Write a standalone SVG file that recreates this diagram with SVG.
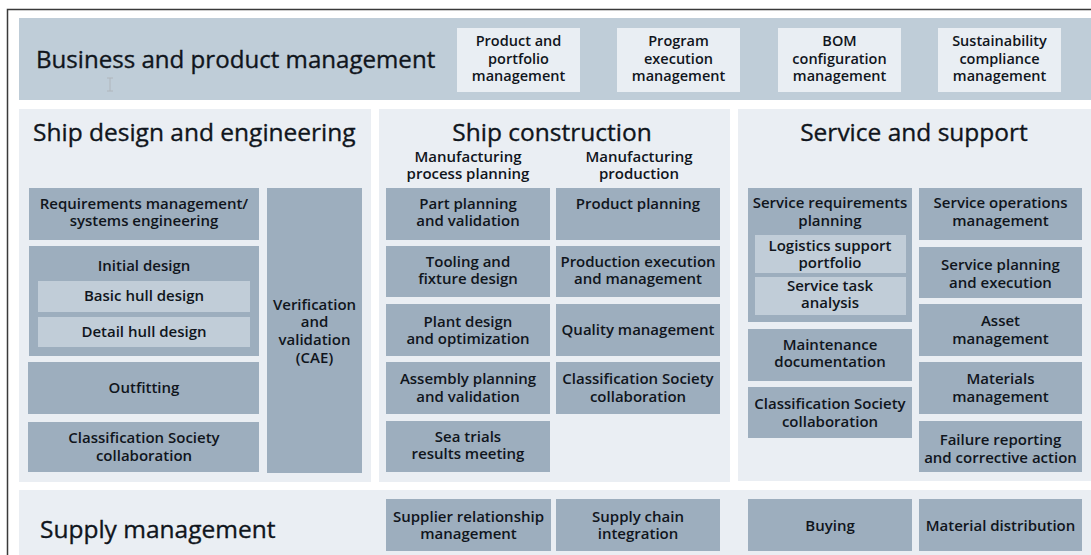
<svg xmlns="http://www.w3.org/2000/svg" width="1091" height="555" viewBox="0 0 1091 555">
<style>
text { font-family: "Open Sans", "Noto Sans", "Liberation Sans", sans-serif; fill: #10151c; }
.h { font-size: 24.5px; stroke: #10151c; stroke-width: 0.35px; }
.hb { font-size: 24.1px; stroke: #10151c; stroke-width: 0.35px; }
.hc { font-size: 24.5px; text-anchor: middle; stroke: #10151c; stroke-width: 0.35px; }
.l { font-size: 15px; font-weight: 600; text-anchor: middle; }
.lt { font-size: 14.5px; font-weight: 600; text-anchor: middle; }
.dk { fill: #9daebe; }
.in { fill: #c1cdd8; }
.pn { fill: #eaeef3; }
.band { fill: #bfcdd8; }
.tb { fill: #e9eef3; }
</style>
<rect x="0" y="0" width="1091" height="555" fill="#ffffff"/>
<path d="M7.5 555 V9.5 H1091" fill="none" stroke="#3a3a3a" stroke-width="1.5"/>

<g id="business">
  <rect class="band" x="19" y="18" width="1072" height="82"/>
  <text class="hb" x="36" y="68">Business and product management</text>
  <path d="M107 78 h6 M110 78 v13 M107 91 h6" stroke="#b0b6bc" stroke-width="1" fill="none"/>
</g>
<g id="product-portfolio">
  <rect class="tb" x="457" y="28" width="123" height="64"/>
  <text class="lt" x="518.5" y="46">Product and</text>
  <text class="lt" x="518.5" y="63.5">portfolio</text>
  <text class="lt" x="518.5" y="81">management</text>
</g>
<g id="program-execution">
  <rect class="tb" x="617" y="28" width="123" height="64"/>
  <text class="lt" x="678.5" y="46">Program</text>
  <text class="lt" x="678.5" y="63.5">execution</text>
  <text class="lt" x="678.5" y="81">management</text>
</g>
<g id="bom-configuration">
  <rect class="tb" x="778" y="28" width="123" height="64"/>
  <text class="lt" x="839.5" y="46">BOM</text>
  <text class="lt" x="839.5" y="63.5">configuration</text>
  <text class="lt" x="839.5" y="81">management</text>
</g>
<g id="sustainability">
  <rect class="tb" x="938" y="28" width="123" height="64"/>
  <text class="lt" x="999.5" y="46">Sustainability</text>
  <text class="lt" x="999.5" y="63.5">compliance</text>
  <text class="lt" x="999.5" y="81">management</text>
</g>

<g id="ship-design">
  <rect class="pn" x="19" y="109" width="352" height="373"/>
  <text class="h" x="33" y="141">Ship design and engineering</text>
</g>
<g id="requirements">
  <rect class="dk" x="29" y="188" width="230" height="52"/>
  <text class="l" x="144" y="208.5">Requirements management/</text>
  <text class="l" x="144" y="226">systems engineering</text>
</g>
<g id="initial-design">
  <rect class="dk" x="29" y="246" width="230" height="110"/>
  <text class="l" x="144" y="271">Initial design</text>
</g>
<g id="basic-hull">
  <rect class="in" x="38" y="281" width="212" height="31"/>
  <text class="l" x="144" y="301">Basic hull design</text>
</g>
<g id="detail-hull">
  <rect class="in" x="38" y="317" width="212" height="30"/>
  <text class="l" x="144" y="336.5">Detail hull design</text>
</g>
<g id="outfitting">
  <rect class="dk" x="28" y="362" width="231" height="52"/>
  <text class="l" x="144" y="393">Outfitting</text>
</g>
<g id="class-society-design">
  <rect class="dk" x="28" y="422" width="231" height="50"/>
  <text class="l" x="144" y="442.5">Classification Society</text>
  <text class="l" x="144" y="460.5">collaboration</text>
</g>
<g id="verification">
  <rect class="dk" x="267" y="188" width="95" height="285"/>
  <text class="l" x="314.5" y="309.5">Verification</text>
  <text class="l" x="314.5" y="327.2">and</text>
  <text class="l" x="314.5" y="345">validation</text>
  <text class="l" x="314.5" y="362.7">(CAE)</text>
</g>

<g id="ship-construction">
  <rect class="pn" x="379" y="109" width="351" height="373"/>
  <text class="hc" x="552" y="140.5">Ship construction</text>
  <text class="l" x="468" y="162">Manufacturing</text>
  <text class="l" x="468" y="179">process planning</text>
  <text class="l" x="639" y="162">Manufacturing</text>
  <text class="l" x="639" y="179">production</text>
</g>
<g id="part-planning">
  <rect class="dk" x="386" y="188" width="164" height="52"/>
  <text class="l" x="468" y="208.5">Part planning</text>
  <text class="l" x="468" y="226">and validation</text>
</g>
<g id="product-planning">
  <rect class="dk" x="556" y="188" width="164" height="52"/>
  <text class="l" x="638" y="208.5">Product planning</text>
</g>
<g id="tooling">
  <rect class="dk" x="386" y="246" width="164" height="51"/>
  <text class="l" x="468" y="266.7">Tooling and</text>
  <text class="l" x="468" y="284.3">fixture design</text>
</g>
<g id="production-execution">
  <rect class="dk" x="556" y="246" width="164" height="51"/>
  <text class="l" x="638" y="266.7">Production execution</text>
  <text class="l" x="638" y="284.3">and management</text>
</g>
<g id="plant-design">
  <rect class="dk" x="386" y="304" width="164" height="52"/>
  <text class="l" x="468" y="326.5">Plant design</text>
  <text class="l" x="468" y="344">and optimization</text>
</g>
<g id="quality">
  <rect class="dk" x="556" y="304" width="164" height="52"/>
  <text class="l" x="638" y="335">Quality management</text>
</g>
<g id="assembly">
  <rect class="dk" x="386" y="362" width="164" height="52"/>
  <text class="l" x="468" y="384.3">Assembly planning</text>
  <text class="l" x="468" y="401.5">and validation</text>
</g>
<g id="class-society-construction">
  <rect class="dk" x="556" y="362" width="164" height="52"/>
  <text class="l" x="638" y="384.3">Classification Society</text>
  <text class="l" x="638" y="401.5">collaboration</text>
</g>
<g id="sea-trials">
  <rect class="dk" x="386" y="421" width="164" height="51"/>
  <text class="l" x="468" y="441.7">Sea trials</text>
  <text class="l" x="468" y="459.3">results meeting</text>
</g>

<g id="service-support">
  <rect class="pn" x="738" y="109" width="353" height="372"/>
  <text class="hc" x="914" y="140.5">Service and support</text>
</g>
<g id="service-requirements">
  <rect class="dk" x="748" y="188" width="164" height="134"/>
  <text class="l" x="830" y="208.3">Service requirements</text>
  <text class="l" x="830" y="226">planning</text>
</g>
<g id="logistics">
  <rect class="in" x="755" y="235" width="151" height="38"/>
  <text class="l" x="830" y="250.5">Logistics support</text>
  <text class="l" x="830" y="268">portfolio</text>
</g>
<g id="service-task">
  <rect class="in" x="755" y="277" width="151" height="38"/>
  <text class="l" x="830" y="290.5">Service task</text>
  <text class="l" x="830" y="307.5">analysis</text>
</g>
<g id="maintenance">
  <rect class="dk" x="748" y="329" width="164" height="52"/>
  <text class="l" x="830" y="349.5">Maintenance</text>
  <text class="l" x="830" y="367.3">documentation</text>
</g>
<g id="class-society-service">
  <rect class="dk" x="748" y="387" width="164" height="51"/>
  <text class="l" x="830" y="409.3">Classification Society</text>
  <text class="l" x="830" y="427.3">collaboration</text>
</g>
<g id="service-operations">
  <rect class="dk" x="919" y="188" width="163" height="52"/>
  <text class="l" x="1000.5" y="208.3">Service operations</text>
  <text class="l" x="1000.5" y="226">management</text>
</g>
<g id="service-planning">
  <rect class="dk" x="919" y="247" width="163" height="51"/>
  <text class="l" x="1000.5" y="270">Service planning</text>
  <text class="l" x="1000.5" y="287.7">and execution</text>
</g>
<g id="asset">
  <rect class="dk" x="919" y="304" width="163" height="52"/>
  <text class="l" x="1000.5" y="326">Asset</text>
  <text class="l" x="1000.5" y="344.3">management</text>
</g>
<g id="materials">
  <rect class="dk" x="919" y="362" width="163" height="52"/>
  <text class="l" x="1000.5" y="384.3">Materials</text>
  <text class="l" x="1000.5" y="402.3">management</text>
</g>
<g id="failure">
  <rect class="dk" x="919" y="421" width="163" height="51"/>
  <text class="l" x="1000.5" y="445">Failure reporting</text>
  <text class="l" x="1000.5" y="462.7">and corrective action</text>
</g>

<g id="supply">
  <rect class="pn" x="19" y="490" width="1072" height="65"/>
  <text class="h" x="40" y="538">Supply management</text>
</g>
<g id="supplier-relationship">
  <rect class="dk" x="386" y="499" width="165" height="52"/>
  <text class="l" x="468.5" y="521.7">Supplier relationship</text>
  <text class="l" x="468.5" y="539">management</text>
</g>
<g id="supply-chain">
  <rect class="dk" x="556" y="499" width="164" height="52"/>
  <text class="l" x="638" y="521.7">Supply chain</text>
  <text class="l" x="638" y="539">integration</text>
</g>
<g id="buying">
  <rect class="dk" x="748" y="499" width="164" height="52"/>
  <text class="l" x="830" y="530.5">Buying</text>
</g>
<g id="material-distribution">
  <rect class="dk" x="919" y="499" width="163" height="52"/>
  <text class="l" x="1000.5" y="530.5">Material distribution</text>
</g>
<g id="connectors"></g>
</svg>
